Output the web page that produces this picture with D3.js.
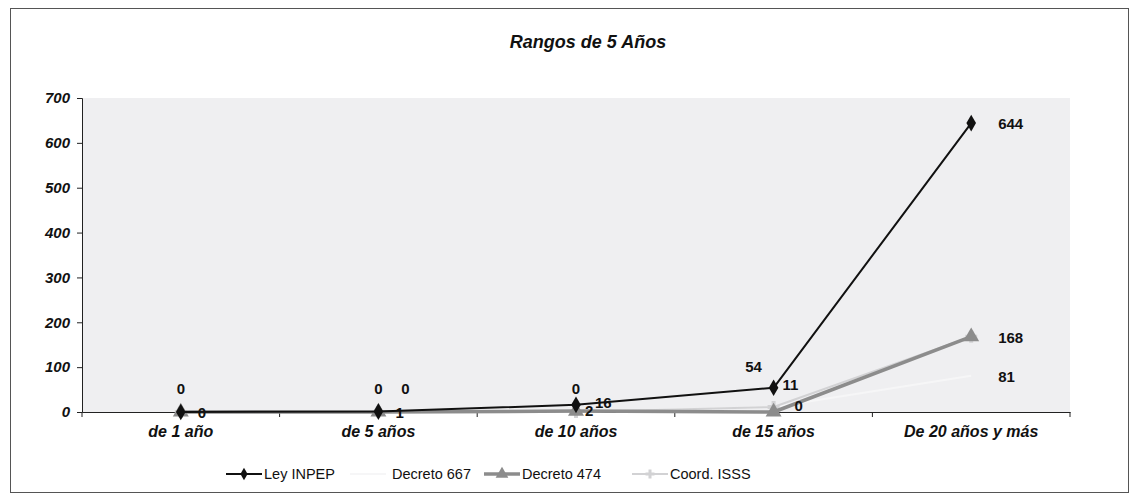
<!DOCTYPE html>
<html>
<head>
<meta charset="utf-8">
<script src="https://cdn.jsdelivr.net/npm/d3@7"></script>
<style>
  body { margin: 0; background: #fff; }
  svg text { font-family: "Liberation Sans", Arial, sans-serif; }
</style>
</head>
<body>
<div id="chart"></div>
<script>
// data
const categories = ["de 1 año", "de 5 años", "de 10 años", "de 15 años", "De 20 años y más"];
const leyInpep   = [0, 1, 16, 54, 644];
const decreto667 = [0, 0, 0, 11, 81];
const decreto474 = [0, 0, 2, 0, 168];
const coordIsss  = [0, 0, 0, 11, 168];
const yTicks = [0, 100, 200, 300, 400, 500, 600, 700];

const width = 1135;
const height = 504;
const margin = { top: 98, right: 65, bottom: 92, left: 82 };

// series look + where Excel put each data label (null = no label shown)
const series = [
  { name: "Ley INPEP", values: leyInpep, color: "#111", width: 2, marker: "diamond",
    labels: ["right", "right", "rightHigh", "aboveLeft", "farRight"] },
  { name: "Decreto 667", values: decreto667, color: "#f6f6f7", width: 2, marker: "none",
    labels: ["above", "above", "above", "upClose", "farRight"] },
  { name: "Decreto 474", values: decreto474, color: "#8c8c8c", width: 3.5, marker: "triangle",
    labels: [null, null, "rightLow", "rightUp", "farRight"] },
  { name: "Coord. ISSS", values: coordIsss, color: "#d2d2d4", width: 2, marker: "plus",
    labels: [null, "aboveRight", null, null, null] }
];

const svg = d3.select("#chart")
  .append("svg")
  .attr("width", width)
  .attr("height", height);

// outer frame
svg.append("rect")
  .attr("x", 10.5).attr("y", 8.5)
  .attr("width", 1118).attr("height", 484)
  .attr("fill", "#fff")
  .attr("stroke", "#555")
  .attr("stroke-width", 1);

const xScale = d3.scaleBand()
  .domain(categories)
  .range([margin.left, width - margin.right]);

const yScale = d3.scaleLinear()
  .domain([0, 700])
  .range([height - margin.bottom, margin.top]);

// plot area
svg.append("rect")
  .attr("x", margin.left)
  .attr("y", yScale(700))
  .attr("width", xScale.range()[1] - margin.left)
  .attr("height", yScale(0) - yScale(700))
  .attr("fill", "#efeff1");

svg.append("text")
  .attr("x", 588).attr("y", 48)
  .attr("text-anchor", "middle")
  .style("font-size", "18px")
  .style("font-weight", "bold")
  .style("font-style", "italic")
  .attr("fill", "#111")
  .text("Rangos de 5 Años");

const yAxis = svg.append("g")
  .attr("transform", `translate(${margin.left},0)`)
  .call(d3.axisLeft(yScale).tickValues(yTicks).tickSize(5).tickPadding(7));

const xAxis = svg.append("g")
  .attr("transform", `translate(0,${yScale(0)})`)
  .call(d3.axisBottom(xScale).tickSize(0).tickPadding(14));

// band boundary ticks like Excel
xAxis.selectAll(".bt")
  .data(d3.range(categories.length + 1))
  .join("line")
  .attr("class", "bt")
  .attr("x1", i => margin.left + i * xScale.step())
  .attr("x2", i => margin.left + i * xScale.step())
  .attr("y1", 0).attr("y2", 5)
  .attr("stroke", "#222");

[yAxis, xAxis].forEach(ax => {
  ax.select(".domain").attr("stroke", "#222");
  ax.selectAll(".tick line").attr("stroke", "#222");
  ax.selectAll("text")
    .attr("fill", "#111")
    .style("font-weight", "bold")
    .style("font-style", "italic")
    .style("font-family", "'Liberation Sans', Arial, sans-serif");
});
yAxis.selectAll("text").style("font-size", "15px");
xAxis.selectAll("text").style("font-size", "16px");

const cx = c => xScale(c) + xScale.bandwidth() / 2;

const line = d3.line()
  .x((d, i) => cx(categories[i]))
  .y(d => yScale(d));

const markerPath = (type, size) => {
  if (type === "diamond") return d3.symbol(d3.symbolDiamond, size)();
  if (type === "triangle") return d3.symbol(d3.symbolTriangle, size)();
  if (type === "plus") return d3.symbol(d3.symbolCross, size)();
  return null;
};

// draw the lighter series first, black on top
const drawOrder = [1, 3, 2, 0];
drawOrder.forEach(k => {
  const s = series[k];
  const g = svg.append("g");
  g.append("path")
    .datum(s.values)
    .attr("fill", "none")
    .attr("stroke", s.color)
    .attr("stroke-width", s.width)
    .attr("stroke-linejoin", "round")
    .attr("d", line);
  if (s.marker !== "none") {
    g.selectAll("path.m")
      .data(s.values)
      .join("path")
      .attr("class", "m")
      .attr("transform", (d, i) => `translate(${cx(categories[i])},${yScale(d)})`)
      .attr("d", markerPath(s.marker, s.marker === "triangle" ? 110 : 80))
      .attr("fill", s.color);
  }
});

// data labels: [dx, dy, anchor]
const offsets = {
  right: [17, 6, "start"], rightHigh: [19, 3, "start"], rightLow: [9, 5, "start"],
  rightUp: [21, -1, "start"], farRight: [27, 6, "start"], upClose: [9, -17, "start"],
  above: [0, -18, "middle"], aboveRight: [27, -18, "middle"], aboveLeft: [-20, -16, "middle"]
};
series.forEach(s => {
  svg.append("g")
    .selectAll("text")
    .data(s.values.map((v, i) => ({ v, i, pos: s.labels[i] })).filter(d => d.pos))
    .join("text")
    .attr("x", d => cx(categories[d.i]) + offsets[d.pos][0])
    .attr("y", d => yScale(d.v) + offsets[d.pos][1])
    .attr("text-anchor", d => offsets[d.pos][2])
    .style("font-size", "15px")
    .style("font-weight", "bold")
    .attr("fill", "#111")
    .text(d => d.v);
});

// legend
const legendX = [226, 350, 484, 632];
const legend = svg.append("g").attr("transform", "translate(0,474)");
series.forEach((s, k) => {
  const g = legend.append("g").attr("transform", `translate(${legendX[k]},0)`);
  g.append("line")
    .attr("x1", 0).attr("x2", 36)
    .attr("stroke", s.color)
    .attr("stroke-width", s.width);
  if (s.marker !== "none") {
    g.append("path")
      .attr("transform", "translate(18,0)")
      .attr("d", markerPath(s.marker, s.marker === "triangle" ? 70 : 45))
      .attr("fill", s.color);
  }
  g.append("text")
    .attr("x", k === 1 ? 42 : 38).attr("y", 5)
    .style("font-size", "14.5px")
    .style("font-family", "'Liberation Sans Narrow', 'Liberation Sans', Arial, sans-serif")
    .attr("fill", "#111")
    .text(s.name);
});
</script>
</body>
</html>
